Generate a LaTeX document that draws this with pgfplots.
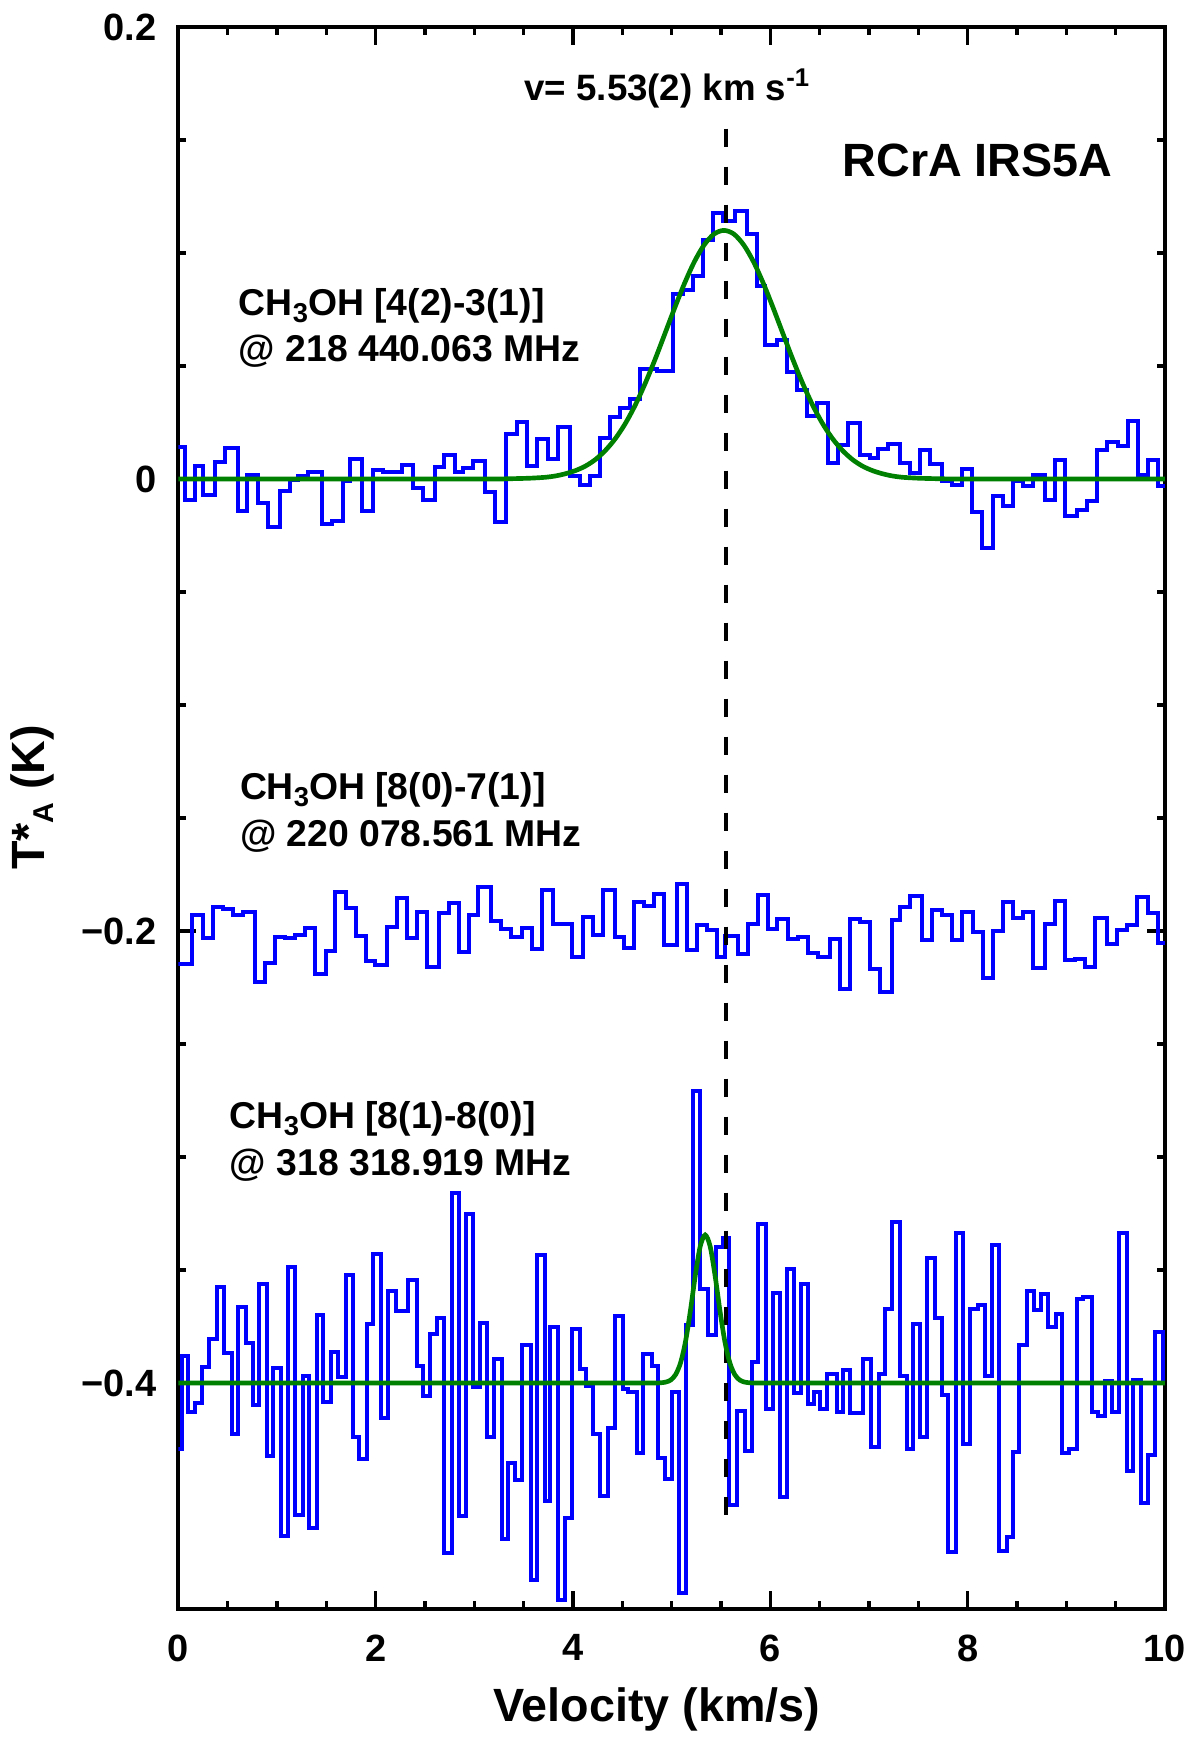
\documentclass[border=0pt]{standalone}
\usepackage{fontspec}
\setmainfont{Liberation Sans}
\usepackage{pgfplots}
\usepackage{pgfplotstable}
\pgfplotsset{compat=1.18}
\definecolor{specblue}{RGB}{0,0,255}
\definecolor{fitgreen}{RGB}{0,128,0}
\newcommand{\sub}[1]{\raisebox{-2pt}{\fontsize{8.2}{9}\selectfont #1}}

\pgfplotstableread{
x y
0 0.0142
0.068 -0.0091
0.169 0.0059
0.254 -0.0069
0.372 0.0074
0.473 0.0137
0.608 -0.0143
0.693 0.0019
0.811 -0.0106
0.912 -0.0214
1.031 -0.0055
1.132 -0.0003
1.216 0.0015
1.318 0.0030
1.453 -0.0199
1.555 -0.0187
1.666 -0.0010
1.740 0.0089
1.859 -0.0143
1.976 0.0041
2.078 0.0030
2.264 0.0063
2.382 -0.0040
2.483 -0.0091
2.602 0.0053
2.693 0.0108
2.804 0.0030
2.889 0.0049
2.990 0.0078
3.108 -0.0059
3.210 -0.0192
3.320 0.0200
3.429 0.0252
3.531 0.0059
3.632 0.0177
3.750 0.0089
3.851 0.0230
3.970 0.0012
4.071 -0.0025
4.172 0.0012
4.274 0.0181
4.375 0.0273
4.476 0.0314
4.578 0.0354
4.679 0.0487
4.848 0.0476
5.011 0.0819
5.118 0.0838
5.220 0.0900
5.321 0.1059
5.422 0.1177
5.524 0.1140
5.642 0.1184
5.760 0.1084
5.861 0.0853
5.946 0.0591
6.064 0.0617
6.165 0.0472
6.266 0.0395
6.368 0.0277
6.469 0.0336
6.587 0.0071
6.689 0.0152
6.791 0.0248
6.909 0.0108
7.010 0.0093
7.094 0.0133
7.196 0.0156
7.314 0.0071
7.415 0.0027
7.517 0.0130
7.618 0.0068
7.736 -0.0010
7.838 -0.0025
7.939 0.0044
8.041 -0.0148
8.142 -0.0305
8.260 -0.0074
8.362 -0.0121
8.463 -0.0010
8.564 -0.0030
8.666 0.0019
8.784 -0.0091
8.885 0.0083
8.987 -0.0165
9.105 -0.0139
9.206 -0.0099
9.308 0.0127
9.409 0.0162
9.527 0.0145
9.629 0.0255
9.730 0.0019
9.832 0.0086
9.933 -0.0030
10 -0.0030
}\specA

\pgfplotstableread{
x y
0 -0.2146
0.1355 -0.1929
0.247 -0.2032
0.348 -0.1892
0.456 -0.1904
0.558 -0.1929
0.659 -0.1917
0.777 -0.2224
0.879 -0.2140
0.980 -0.2028
1.081 -0.2032
1.183 -0.2018
1.284 -0.1988
1.385 -0.2190
1.497 -0.2089
1.588 -0.1826
1.700 -0.1900
1.801 -0.2022
1.902 -0.2131
1.994 -0.2150
2.112 -0.1981
2.213 -0.1855
2.321 -0.2032
2.422 -0.1914
2.524 -0.2161
2.645 -0.1919
2.747 -0.1878
2.848 -0.2091
2.949 -0.1929
3.040 -0.1807
3.166 -0.1954
3.267 -0.1993
3.369 -0.2025
3.480 -0.1988
3.582 -0.2081
3.683 -0.1819
3.800 -0.1969
3.987 -0.2114
4.105 -0.1940
4.206 -0.2018
4.307 -0.1819
4.426 -0.2028
4.517 -0.2077
4.618 -0.1870
4.720 -0.1889
4.821 -0.1836
4.922 -0.2062
5.051 -0.1792
5.152 -0.2084
5.254 -0.1973
5.355 -0.1996
5.457 -0.2114
5.541 -0.2022
5.676 -0.2102
5.777 -0.1969
5.878 -0.1841
5.980 -0.1991
6.065 -0.1948
6.182 -0.2037
6.284 -0.2025
6.385 -0.2099
6.486 -0.2117
6.605 -0.2037
6.706 -0.2258
6.808 -0.1948
6.909 -0.1959
7.010 -0.2170
7.112 -0.2268
7.230 -0.1951
7.314 -0.1895
7.416 -0.1845
7.534 -0.2040
7.635 -0.1907
7.737 -0.1929
7.838 -0.2040
7.940 -0.1914
8.058 -0.2003
8.159 -0.2209
8.260 -0.1999
8.362 -0.1873
8.463 -0.1944
8.564 -0.1914
8.666 -0.2165
8.784 -0.1969
8.885 -0.1866
8.987 -0.2128
9.088 -0.2125
9.189 -0.2158
9.290 -0.1944
9.409 -0.2059
9.510 -0.1996
9.612 -0.1973
9.713 -0.1848
9.831 -0.1922
9.932 -0.2055
10 -0.2055
}\specB

\pgfplotstableread{
x y
0 -0.4293
0.034 -0.3879
0.102 -0.4130
0.169 -0.4089
0.237 -0.3930
0.314 -0.3807
0.389 -0.3575
0.463 -0.3867
0.541 -0.4224
0.608 -0.3664
0.686 -0.3824
0.753 -0.4098
0.821 -0.3563
0.896 -0.4323
0.963 -0.3935
1.037 -0.4678
1.115 -0.3486
1.183 -0.4586
1.260 -0.3967
1.328 -0.4641
1.402 -0.3701
1.470 -0.4086
1.544 -0.3864
1.622 -0.3972
1.700 -0.3523
1.767 -0.4241
1.835 -0.4338
1.909 -0.3738
1.977 -0.3431
2.051 -0.4153
2.129 -0.3593
2.206 -0.3682
2.331 -0.3545
2.416 -0.3923
2.483 -0.4056
2.551 -0.3782
2.618 -0.3713
2.693 -0.4752
2.770 -0.3160
2.848 -0.4589
2.916 -0.3254
2.990 -0.4019
3.057 -0.3733
3.132 -0.4237
3.199 -0.3893
3.277 -0.4690
3.345 -0.4355
3.412 -0.4427
3.480 -0.3834
3.571 -0.4871
3.638 -0.3434
3.716 -0.4523
3.767 -0.3753
3.851 -0.4960
3.918 -0.4597
3.986 -0.3760
4.071 -0.3938
4.131 -0.4015
4.206 -0.4224
4.274 -0.4498
4.358 -0.4197
4.426 -0.3704
4.503 -0.4027
4.561 -0.4041
4.645 -0.4311
4.713 -0.3871
4.797 -0.3923
4.864 -0.4330
4.932 -0.4424
4.999 -0.4039
5.077 -0.4927
5.145 -0.3745
5.213 -0.2710
5.287 -0.3585
5.371 -0.3787
5.449 -0.3400
5.517 -0.3360
5.584 -0.4542
5.658 -0.4123
5.743 -0.4301
5.811 -0.3908
5.878 -0.3298
5.953 -0.4113
6.023 -0.3600
6.098 -0.4505
6.165 -0.3494
6.239 -0.4044
6.307 -0.3560
6.385 -0.4093
6.442 -0.4041
6.503 -0.4116
6.578 -0.3960
6.672 -0.4130
6.740 -0.3941
6.807 -0.4133
6.942 -0.3893
7.017 -0.4281
7.105 -0.3960
7.162 -0.3671
7.230 -0.3286
7.314 -0.3967
7.382 -0.4293
7.449 -0.3738
7.517 -0.4237
7.585 -0.3449
7.669 -0.3713
7.736 -0.4053
7.804 -0.4749
7.882 -0.3338
7.956 -0.4271
8.024 -0.3671
8.108 -0.3653
8.176 -0.3967
8.243 -0.3390
8.321 -0.4745
8.395 -0.4681
8.456 -0.4305
8.524 -0.3834
8.598 -0.3594
8.672 -0.3679
8.740 -0.3605
8.817 -0.3753
8.895 -0.3693
8.952 -0.4308
9.030 -0.4290
9.104 -0.3630
9.172 -0.3619
9.256 -0.4127
9.324 -0.4148
9.391 -0.3990
9.459 -0.4127
9.537 -0.3338
9.611 -0.4390
9.678 -0.3985
9.753 -0.4530
9.830 -0.4320
9.898 -0.3775
9.982 -0.4000
10 -0.4000
}\specC

\pgfplotstableread{
x y
0 0
3.0 0
3.33 0.0001
3.53 0.0003
3.63 0.0005
3.73 0.0008
3.83 0.0014
3.93 0.0024
4.03 0.0038
4.13 0.0058
4.23 0.0087
4.33 0.0127
4.43 0.0179
4.53 0.0245
4.63 0.0326
4.73 0.0421
4.83 0.0527
4.93 0.0641
5.03 0.0756
5.13 0.0865
5.23 0.0961
5.33 0.1036
5.43 0.1084
5.53 0.1100
5.63 0.1084
5.73 0.1036
5.83 0.0961
5.93 0.0865
6.03 0.0756
6.13 0.0641
6.23 0.0527
6.33 0.0421
6.43 0.0326
6.53 0.0245
6.63 0.0179
6.73 0.0127
6.83 0.0087
6.93 0.0058
7.03 0.0038
7.13 0.0024
7.23 0.0014
7.33 0.0008
7.43 0.0005
7.53 0.0003
7.73 0.0001
8.06 0
10 0
}\fitA

\pgfplotstableread{
x y
0 -0.4
4.5 -0.4
4.70 -0.4
4.84 -0.4
4.89 -0.3999
4.94 -0.3996
4.99 -0.3987
5.04 -0.3963
5.09 -0.3911
5.14 -0.3818
5.19 -0.3681
5.24 -0.3524
5.29 -0.3395
5.34 -0.3345
5.39 -0.3395
5.44 -0.3524
5.49 -0.3681
5.54 -0.3818
5.59 -0.3911
5.64 -0.3963
5.69 -0.3987
5.74 -0.3996
5.79 -0.3999
5.84 -0.4
5.98 -0.4
6.2 -0.4
10 -0.4
}\fitC

\begin{document}
\begin{tikzpicture}
\begin{axis}[
  at={(0,0)}, anchor=south west,
  scale only axis,
  width=296.0pt, height=474.6pt,
  xmin=0, xmax=10, ymin=-0.5, ymax=0.2,
  xtick={0,2,4,6,8,10},
  xticklabels={0,2,4,6,8,10},
  ytick={-0.4,-0.2,0,0.2},
  yticklabels={−0.4,−0.2,0,0.2},
  minor x tick num=3,
  minor y tick num=3,
  tick align=inside,
  tick pos=both,
  major tick length=5.4pt,
  minor tick length=2.4pt,
  every tick/.style={black, line width=1pt},
  axis line style={line width=1.2pt},
  tick label style={font=\fontsize{11.4}{13}\selectfont\bfseries},
  xticklabel style={anchor=north, inner sep=0pt, yshift=-7.5pt},
  yticklabel style={anchor=east, inner sep=0pt, xshift=-6.3pt},
  xlabel={Velocity (km/s)},
  xlabel style={at={(axis description cs:0.485,0)}, anchor=base, yshift=-33.8pt,
    font=\fontsize{14}{16}\selectfont\bfseries},
  ylabel={T*\raisebox{-2.8pt}{\fontsize{8.6}{9}\selectfont A} (K)},
  ylabel style={at={(axis description cs:-0.1361,0.513)}, anchor=base, rotate=0,
    font=\fontsize{14}{16}\selectfont\bfseries},
  clip=true,
]
\addplot[const plot mark left, color=specblue, line width=1.2pt, line join=miter] table {\specA};
\addplot[const plot mark left, color=specblue, line width=1.2pt, line join=miter] table {\specB};
\addplot[const plot mark left, color=specblue, line width=1.2pt, line join=miter] table {\specC};
\addplot[black, line width=1.2pt, dash pattern=on 5.6pt off 5.8pt] coordinates {(5.55,0.155) (5.55,-0.4637)};
\addplot[fitgreen, line width=1.4pt, smooth, tension=0.5] table {\fitA};
\addplot[fitgreen, line width=1.4pt, smooth, tension=0.5] table {\fitC};

\node[anchor=base, font=\fontsize{11}{13}\selectfont\bfseries] at (axis cs:4.96,0.1676) {v= 5.53(2) km s\textsuperscript{-1}};
\node[anchor=base, font=\fontsize{14}{16}\selectfont\bfseries] at (axis cs:8.10,0.1339) {RCrA IRS5A};

\node[anchor=base west, inner sep=0pt, font=\fontsize{11.2}{13}\selectfont\bfseries] at (axis cs:0.608,0.0723) {CH\sub{3}OH [4(2)-3(1)]};
\node[anchor=base west, inner sep=0pt, font=\fontsize{11.2}{13}\selectfont\bfseries] at (axis cs:0.608,0.0519) {@ 218 440.063 MHz};

\node[anchor=base west, inner sep=0pt, font=\fontsize{11.2}{13}\selectfont\bfseries] at (axis cs:0.619,-0.1418) {CH\sub{3}OH [8(0)-7(1)]};
\node[anchor=base west, inner sep=0pt, font=\fontsize{11.2}{13}\selectfont\bfseries] at (axis cs:0.619,-0.1625) {@ 220 078.561 MHz};

\node[anchor=base west, inner sep=0pt, font=\fontsize{11.2}{13}\selectfont\bfseries] at (axis cs:0.517,-0.2875) {CH\sub{3}OH [8(1)-8(0)]};
\node[anchor=base west, inner sep=0pt, font=\fontsize{11.2}{13}\selectfont\bfseries] at (axis cs:0.517,-0.3081) {@ 318 318.919 MHz};
\end{axis}
\pgfresetboundingbox
\path[use as bounding box] (-53.49pt,-38.7pt) rectangle (306.51pt,482.7pt);
\end{tikzpicture}
\end{document}
